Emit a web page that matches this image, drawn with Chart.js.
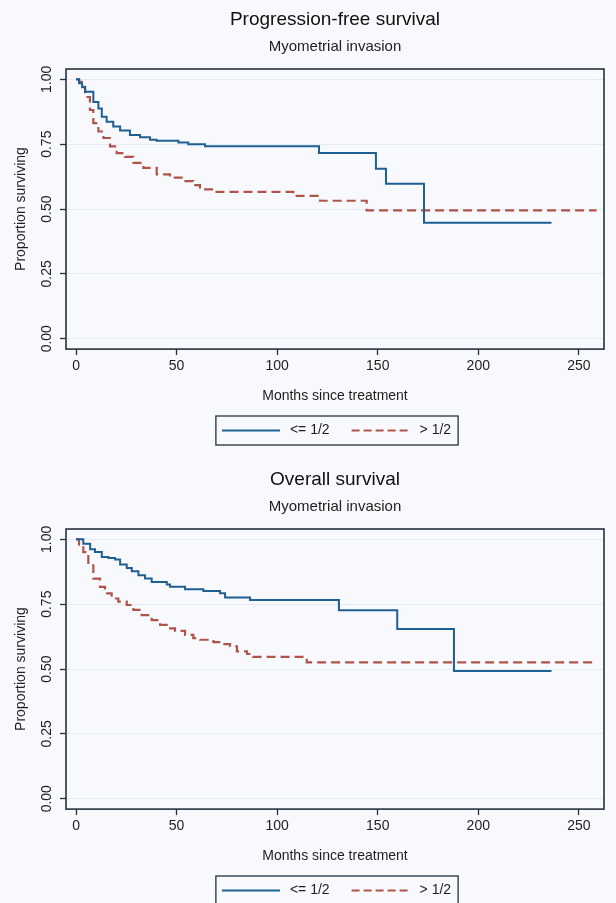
<!DOCTYPE html>
<html>
<head>
<meta charset="utf-8">
<script src="https://cdn.jsdelivr.net/npm/chart.js@4.4.1/dist/chart.umd.min.js"></script>
<style>
  html, body { margin: 0; padding: 0; background: #f7f9fc; }
  #wrap { position: relative; width: 616px; height: 903px; overflow: hidden; }
  .panel { position: absolute; left: 0; width: 616px; height: 452px; }
</style>
</head>
<body>
<div id="wrap">
  <div class="panel" style="top:0"><canvas id="pfsChart"></canvas></div>
  <div class="panel" style="top:460px"><canvas id="osChart"></canvas></div>
</div>
<script>
// axis ticks
const xTicks = [0, 50, 100, 150, 200, 250];
const yTicks = [0, 0.25, 0.5, 0.75, 1];
const groupLabels = ["<= 1/2", "> 1/2"];

// Progression-free survival, invasion <= 1/2
const pfsLowMonths = [0, 1.5, 3, 4.5, 8.6, 11.1, 12.8, 15.2, 18.5, 21.9, 26.8, 31.8, 36.8, 40.1, 50.9, 55.8, 64.1, 120.8, 149.1, 154.1, 173.0, 236.4];
const pfsLowSurv = [1, 0.985, 0.97, 0.952, 0.913, 0.888, 0.856, 0.837, 0.818, 0.803, 0.786, 0.777, 0.767, 0.763, 0.757, 0.75, 0.742, 0.716, 0.655, 0.598, 0.447, 0.447];

// Progression-free survival, invasion > 1/2
const pfsHighMonths = [0, 1.5, 2.8, 4.5, 6.9, 8.6, 11.1, 13.6, 16.9, 20.2, 24.3, 28.5, 33.5, 40.1, 46.7, 53.3, 58.3, 61.6, 69.9, 108, 121.3, 144.5, 258.8];
const pfsHighSurv = [1, 0.99, 0.971, 0.932, 0.882, 0.831, 0.799, 0.774, 0.742, 0.716, 0.701, 0.678, 0.659, 0.634, 0.621, 0.608, 0.592, 0.576, 0.566, 0.551, 0.532, 0.495, 0.495];

// Overall survival, invasion <= 1/2
const osLowMonths = [0, 3.6, 7.0, 9.4, 12.8, 16.1, 19.4, 21.9, 25.2, 27.7, 31.0, 34.3, 37.6, 45.1, 46.7, 54.2, 63.3, 71.6, 74.1, 86.5, 130.7, 159.7, 187.9, 236.4];
const osLowSurv = [1, 0.983, 0.962, 0.951, 0.932, 0.928, 0.922, 0.903, 0.89, 0.877, 0.862, 0.849, 0.836, 0.826, 0.817, 0.808, 0.801, 0.792, 0.776, 0.766, 0.727, 0.654, 0.492, 0.492];

// Overall survival, invasion > 1/2
const osHighMonths = [0, 1.5, 3.6, 6.1, 8.6, 11.9, 14.4, 17.7, 21.0, 25.2, 28.5, 32.6, 37.6, 41.8, 45.1, 49.2, 54.2, 58.3, 61.6, 68.3, 73.2, 76.6, 80.0, 85.0, 88.0, 114.7, 257.1];
const osHighSurv = [1, 0.98, 0.951, 0.9, 0.849, 0.817, 0.792, 0.772, 0.76, 0.747, 0.728, 0.708, 0.689, 0.67, 0.657, 0.647, 0.632, 0.619, 0.613, 0.604, 0.596, 0.588, 0.568, 0.558, 0.547, 0.526, 0.526];

const BLUE = "#1f5f91";
const RED = "#b0544b";
const INK = "#1e1e1e";
const FONT = "'Liberation Sans', Arial, sans-serif";

// legend sample: a 58px line (dashed or not) with 3px blank on each side
function lineSample(color, dash, width) {
  const c = document.createElement("canvas");
  c.width = 64;
  c.height = 4;
  const g = c.getContext("2d");
  g.strokeStyle = color;
  g.lineWidth = width;
  g.setLineDash(dash);
  g.beginPath();
  g.moveTo(3, 2);
  g.lineTo(61, 2);
  g.stroke();
  return c;
}

// box round the plot area and round the legend, Stata style
const framePlugin = {
  id: "frame",
  afterDraw(chart) {
    const { ctx, chartArea: a, legend } = chart;
    ctx.save();
    ctx.strokeStyle = "#26313d";
    ctx.lineWidth = 1.6;
    ctx.strokeRect(a.left, a.top, a.right - a.left, a.bottom - a.top);
    const boxes = legend.legendHitBoxes;
    if (boxes && boxes.length) {
      const first = boxes[0];
      const last = boxes[boxes.length - 1];
      const l = first.left - 3;
      const r = last.left + last.width + 7;
      const cy = first.top + first.height / 2;
      ctx.lineWidth = 1.3;
      ctx.strokeRect(l, cy - 14.5, r - l, 29);
    }
    ctx.restore();
  },
};

const toPoints = (months, surv) => months.map((m, i) => ({ x: m, y: surv[i] }));

function makeChart(id, titleText, lowMonths, lowSurv, highMonths, highSurv) {
  const ctx = document.getElementById(id).getContext("2d");
  return new Chart(ctx, {
    type: "line",
    data: {
      datasets: [
        {
          label: groupLabels[0],
          data: toPoints(lowMonths, lowSurv),
          borderColor: BLUE,
          backgroundColor: BLUE,
          borderWidth: 2,
          pointRadius: 0,
          pointStyle: lineSample(BLUE, [], 2),
          stepped: "before",
          fill: false,
        },
        {
          label: groupLabels[1],
          data: toPoints(highMonths, highSurv),
          borderColor: RED,
          backgroundColor: RED,
          borderWidth: 2.2,
          borderDash: [9, 5],
          pointRadius: 0,
          pointStyle: lineSample(RED, [8, 4], 2.2),
          stepped: "before",
          fill: false,
        },
      ],
    },
    options: {
      responsive: true,
      maintainAspectRatio: false,
      animation: false,
      layout: {
        padding: { top: 0, right: 12, bottom: 4.5, left: 0 },
      },
      scales: {
        x: {
          type: "linear",
          min: -5,
          max: 262.5,
          afterBuildTicks: (s) => { s.ticks = xTicks.map((v) => ({ value: v })); },
          grid: { drawOnChartArea: false, tickLength: 6, tickColor: "#26313d", tickWidth: 1.3 },
          border: { display: false },
          ticks: { color: INK, padding: 3, font: { family: FONT, size: 14 }, callback: (v) => v },
          title: {
            display: true,
            text: "Months since treatment",
            color: INK,
            font: { family: FONT, size: 14 },
            padding: { top: 9.8, bottom: 0 },
          },
        },
        y: {
          min: -0.04,
          max: 1.04,
          afterBuildTicks: (s) => { s.ticks = yTicks.map((v) => ({ value: v })); },
          afterFit: (s) => { s.width = 66; },
          grid: { color: "#e3ebf3", lineWidth: 1, tickLength: 6, tickColor: "#26313d", tickWidth: 1.3 },
          border: { display: false },
          ticks: {
            color: INK,
            padding: -1,
            minRotation: 90,
            maxRotation: 90,
            crossAlign: "center",
            font: { family: FONT, size: 14 },
            callback: (v) => Number(v).toFixed(2),
          },
          title: {
            display: true,
            text: "Proportion surviving",
            color: INK,
            font: { family: FONT, size: 14 },
            padding: { top: 13.2, bottom: 0 },
          },
        },
      },
      plugins: {
        title: {
          display: true,
          text: titleText,
          fullSize: false,
          color: "#111",
          font: { family: FONT, size: 19, weight: "normal" },
          padding: { top: 8.6, bottom: 0 },
        },
        subtitle: {
          display: true,
          text: "Myometrial invasion",
          fullSize: false,
          color: INK,
          font: { family: FONT, size: 15 },
          padding: { top: 6.6, bottom: 13 },
        },
        legend: {
          position: "bottom",
          fullSize: false,
          labels: {
            usePointStyle: true,
            pointStyleWidth: 64,
            padding: 19,
            color: INK,
            font: { family: FONT, size: 14 },
          },
        },
        tooltip: { enabled: false },
      },
    },
    plugins: [framePlugin],
  });
}

makeChart("pfsChart", "Progression-free survival", pfsLowMonths, pfsLowSurv, pfsHighMonths, pfsHighSurv);
makeChart("osChart", "Overall survival", osLowMonths, osLowSurv, osHighMonths, osHighSurv);
</script>
</body>
</html>
